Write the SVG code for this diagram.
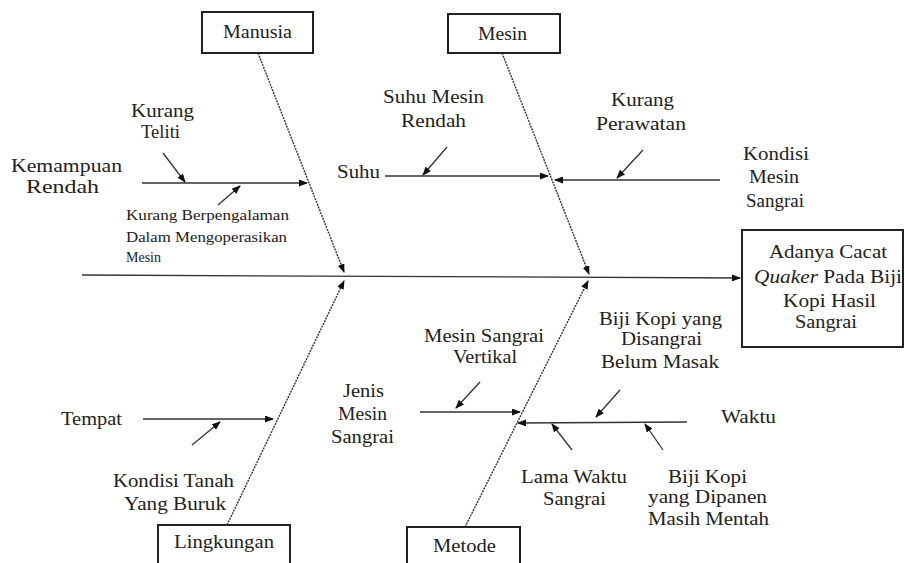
<svg xmlns="http://www.w3.org/2000/svg" width="905" height="563" viewBox="0 0 905 563">
<style>
text{font-family:'Liberation Serif','DejaVu Serif','Times New Roman',serif;font-size:18px;fill:#222}
.s{font-size:15.5px}
.box{fill:#fff;stroke:#222;stroke-width:2}
.ln{stroke:#333;stroke-width:1.3;fill:none}
.bone{stroke:#333;stroke-width:1.4;fill:none;stroke-dasharray:2 1}
</style>
<defs>
<marker id="ah" markerUnits="userSpaceOnUse" markerWidth="9" markerHeight="7" refX="8" refY="3.5" orient="auto">
<path d="M0,0 L9,3.5 L0,7 z" fill="#111"/>
</marker>
</defs>
<rect width="905" height="563" fill="#fff"/>

<g id="connectors">
<line class="ln" x1="82" y1="275" x2="740" y2="278" marker-end="url(#ah)"/>
<line class="bone" x1="258" y1="53" x2="344" y2="272" marker-end="url(#ah)"/>
<line class="bone" x1="502" y1="53" x2="589" y2="274" marker-end="url(#ah)"/>
<line class="bone" x1="227" y1="525" x2="344" y2="281" marker-end="url(#ah)"/>
<line class="bone" x1="465" y1="527" x2="588" y2="281" marker-end="url(#ah)"/>
<line class="ln" x1="142" y1="183" x2="307" y2="183" marker-end="url(#ah)"/>
<line class="ln" x1="163" y1="153" x2="185" y2="182" marker-end="url(#ah)"/>
<line class="ln" x1="218" y1="205" x2="240" y2="186" marker-end="url(#ah)"/>
<line class="ln" x1="385" y1="176" x2="548" y2="176" marker-end="url(#ah)"/>
<line class="ln" x1="447" y1="147" x2="423" y2="175" marker-end="url(#ah)"/>
<line class="ln" x1="720" y1="180" x2="555" y2="180" marker-end="url(#ah)"/>
<line class="ln" x1="643" y1="150" x2="617" y2="178" marker-end="url(#ah)"/>
<line class="ln" x1="143" y1="419" x2="273" y2="419" marker-end="url(#ah)"/>
<line class="ln" x1="192" y1="445" x2="220" y2="422" marker-end="url(#ah)"/>
<line class="ln" x1="420" y1="412" x2="520" y2="412" marker-end="url(#ah)"/>
<line class="ln" x1="480" y1="382" x2="456" y2="408" marker-end="url(#ah)"/>
<line class="ln" x1="687" y1="422" x2="518" y2="423" marker-end="url(#ah)"/>
<line class="ln" x1="620" y1="390" x2="596" y2="417" marker-end="url(#ah)"/>
<line class="ln" x1="572" y1="450" x2="552" y2="424" marker-end="url(#ah)"/>
<line class="ln" x1="663" y1="450" x2="645" y2="424" marker-end="url(#ah)"/>
</g>

<g id="manusia">
<rect class="box" x="202" y="12" width="111" height="41"/>
<text x="223" y="38" textLength="69" lengthAdjust="spacingAndGlyphs">Manusia</text>
</g>
<g id="mesin">
<rect class="box" x="448" y="14" width="112" height="39"/>
<text x="478" y="40" textLength="49" lengthAdjust="spacingAndGlyphs">Mesin</text>
</g>
<g id="lingkungan">
<rect class="box" x="158" y="525" width="132" height="45"/>
<text x="174" y="548" textLength="100" lengthAdjust="spacingAndGlyphs">Lingkungan</text>
</g>
<g id="metode">
<rect class="box" x="407" y="527" width="113" height="45"/>
<text x="433" y="552" textLength="63" lengthAdjust="spacingAndGlyphs">Metode</text>
</g>
<g id="effect">
<rect class="box" x="742" y="230" width="161" height="117"/>
<text x="769" y="258" textLength="118" lengthAdjust="spacingAndGlyphs">Adanya Cacat</text>
<text x="754" y="283" textLength="148" lengthAdjust="spacingAndGlyphs"><tspan font-style="italic">Quaker</tspan> Pada Biji</text>
<text x="783" y="307" textLength="93" lengthAdjust="spacingAndGlyphs">Kopi Hasil</text>
<text x="795" y="328" textLength="62" lengthAdjust="spacingAndGlyphs">Sangrai</text>
</g>

<g id="kurang-teliti">
<text x="131" y="117" textLength="63" lengthAdjust="spacingAndGlyphs">Kurang</text>
<text x="141" y="138" textLength="39" lengthAdjust="spacingAndGlyphs">Teliti</text>
</g>
<g id="kemampuan-rendah">
<text x="11" y="172" textLength="111" lengthAdjust="spacingAndGlyphs">Kemampuan</text>
<text x="26" y="193" textLength="73" lengthAdjust="spacingAndGlyphs">Rendah</text>
</g>
<g id="kurang-berpengalaman">
<text class="s" x="126" y="220" textLength="163" lengthAdjust="spacingAndGlyphs">Kurang Berpengalaman</text>
<text class="s" x="126" y="242" textLength="161" lengthAdjust="spacingAndGlyphs">Dalam Mengoperasikan</text>
<text class="s" x="126" y="262" textLength="35" lengthAdjust="spacingAndGlyphs">Mesin</text>
</g>
<g id="suhu">
<text x="337" y="178" textLength="43" lengthAdjust="spacingAndGlyphs">Suhu</text>
</g>
<g id="suhu-mesin-rendah">
<text x="383" y="103" textLength="101" lengthAdjust="spacingAndGlyphs">Suhu Mesin</text>
<text x="401" y="127" textLength="65" lengthAdjust="spacingAndGlyphs">Rendah</text>
</g>
<g id="kurang-perawatan">
<text x="611" y="106" textLength="63" lengthAdjust="spacingAndGlyphs">Kurang</text>
<text x="596" y="130" textLength="90" lengthAdjust="spacingAndGlyphs">Perawatan</text>
</g>
<g id="kondisi-mesin">
<text x="743" y="160" textLength="66" lengthAdjust="spacingAndGlyphs">Kondisi</text>
<text x="749" y="183" textLength="50" lengthAdjust="spacingAndGlyphs">Mesin</text>
<text x="746" y="207" textLength="58" lengthAdjust="spacingAndGlyphs">Sangrai</text>
</g>
<g id="tempat">
<text x="61" y="425" textLength="61" lengthAdjust="spacingAndGlyphs">Tempat</text>
</g>
<g id="kondisi-tanah">
<text x="113" y="487" textLength="121" lengthAdjust="spacingAndGlyphs">Kondisi Tanah</text>
<text x="124" y="510" textLength="102" lengthAdjust="spacingAndGlyphs">Yang Buruk</text>
</g>
<g id="jenis-mesin">
<text x="343" y="397" textLength="41" lengthAdjust="spacingAndGlyphs">Jenis</text>
<text x="338" y="420" textLength="49" lengthAdjust="spacingAndGlyphs">Mesin</text>
<text x="331" y="443" textLength="63" lengthAdjust="spacingAndGlyphs">Sangrai</text>
</g>
<g id="mesin-vertikal">
<text x="424" y="342" textLength="120" lengthAdjust="spacingAndGlyphs">Mesin Sangrai</text>
<text x="453" y="363" textLength="64" lengthAdjust="spacingAndGlyphs">Vertikal</text>
</g>
<g id="belum-masak">
<text x="599" y="325" textLength="123" lengthAdjust="spacingAndGlyphs">Biji Kopi yang</text>
<text x="621" y="345" textLength="81" lengthAdjust="spacingAndGlyphs">Disangrai</text>
<text x="601" y="368" textLength="118" lengthAdjust="spacingAndGlyphs">Belum Masak</text>
</g>
<g id="waktu">
<text x="721" y="423" textLength="55" lengthAdjust="spacingAndGlyphs">Waktu</text>
</g>
<g id="lama-waktu">
<text x="521" y="483" textLength="106" lengthAdjust="spacingAndGlyphs">Lama Waktu</text>
<text x="543" y="505" textLength="63" lengthAdjust="spacingAndGlyphs">Sangrai</text>
</g>
<g id="biji-mentah">
<text x="668" y="483" textLength="79" lengthAdjust="spacingAndGlyphs">Biji Kopi</text>
<text x="648" y="503" textLength="119" lengthAdjust="spacingAndGlyphs">yang Dipanen</text>
<text x="648" y="525" textLength="121" lengthAdjust="spacingAndGlyphs">Masih Mentah</text>
</g>
</svg>
